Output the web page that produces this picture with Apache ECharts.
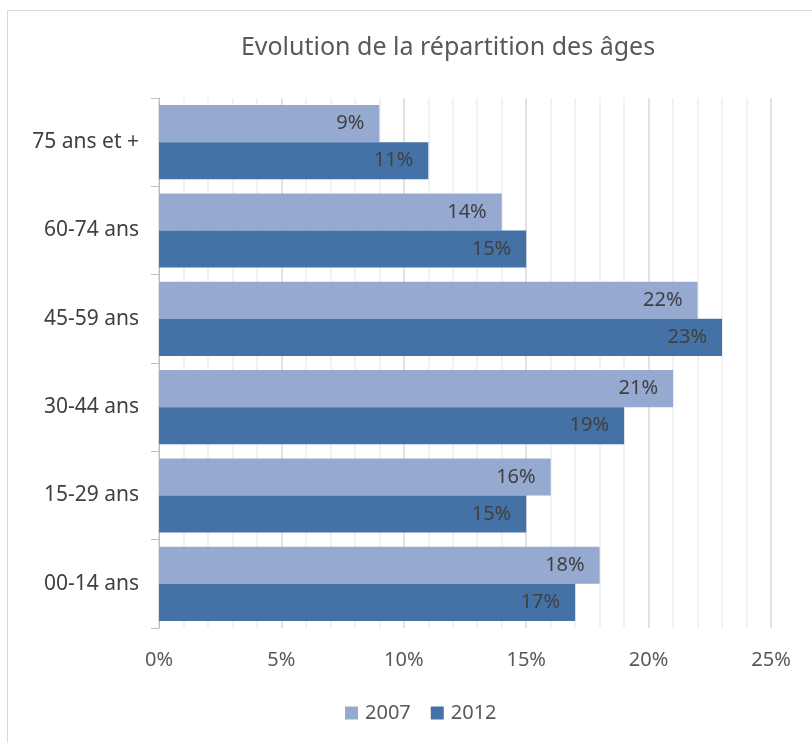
<!DOCTYPE html>
<html><head><meta charset="utf-8">
<script src="https://cdn.jsdelivr.net/npm/echarts@6/dist/echarts.min.js"></script>
<style>html,body{margin:0;padding:0;background:#fff}#c{width:812px;height:743px}</style>
</head><body><div id="c"></div>
<script>
const categories = ['00-14 ans', '15-29 ans', '30-44 ans', '45-59 ans', '60-74 ans', '75 ans et +'];
const values2007 = [18, 16, 21, 22, 14, 9];
const values2012 = [17, 15, 19, 23, 15, 11];
const seriesNames = ['2007', '2012'];
const xTicks = [0, 5, 10, 15, 20, 25];

const chart = echarts.init(document.getElementById('c'));
const font = 'Noto Sans';
chart.setOption({
  animation: false,
  textStyle: {fontFamily: font},
  title: {
    text: 'Evolution de la répartition des âges',
    left: 443, top: 30, textAlign: 'center',
    textStyle: {fontFamily: font, fontSize: 25, fontWeight: 'normal', color: '#595959'}
  },
  graphic: [{type: 'rect', shape: {x: 7.5, y: 10.5, width: 900, height: 900}, style: {fill: 'none', stroke: '#d9d9d9', lineWidth: 1}, z: -1}],
  legend: {
    data: seriesNames, bottom: 15, left: 340, itemWidth: 13, itemHeight: 13, itemGap: 20,
    icon: 'rect',
    textStyle: {fontFamily: font, fontSize: 20, color: '#595959', padding: [0, 0, 0, 2]}
  },
  grid: {left: 159, right: 41, top: 98, bottom: 115, containLabel: false},
  xAxis: {
    type: 'value', min: 0, max: 25, interval: 5,
    axisLabel: {formatter: '{value}%', fontSize: 20, color: '#595959', margin: 22, fontFamily: font},
    axisLine: {show: false}, axisTick: {show: false},
    splitLine: {lineStyle: {color: '#d9d9d9', width: 1.5}},
    minorTick: {show: false, splitNumber: 5},
    minorSplitLine: {show: true, lineStyle: {color: '#eeeeee', width: 1.5}}
  },
  yAxis: {
    type: 'category', data: categories,
    axisLine: {show: true, lineStyle: {color: '#bfbfbf'}},
    axisTick: {show: true, length: 8, lineStyle: {color: '#bfbfbf'}},
    axisLabel: {fontSize: 21, color: '#404040', margin: 20, fontFamily: font}
  },
  series: [
    {name: '2007', type: 'bar', data: values2007, barGap: '0%', barCategoryGap: '16%',
     itemStyle: {color: '#95a9d1'},
     label: {show: true, position: 'insideRight', distance: 15, formatter: '{c}%', fontSize: 20, color: '#404040', fontFamily: font}},
    {name: '2012', type: 'bar', data: values2012, barGap: '0%', barCategoryGap: '16%',
     itemStyle: {color: '#4472a6'},
     label: {show: true, position: 'insideRight', distance: 15, formatter: '{c}%', fontSize: 20, color: '#404040', fontFamily: font}}
  ]
});
</script></body></html>
